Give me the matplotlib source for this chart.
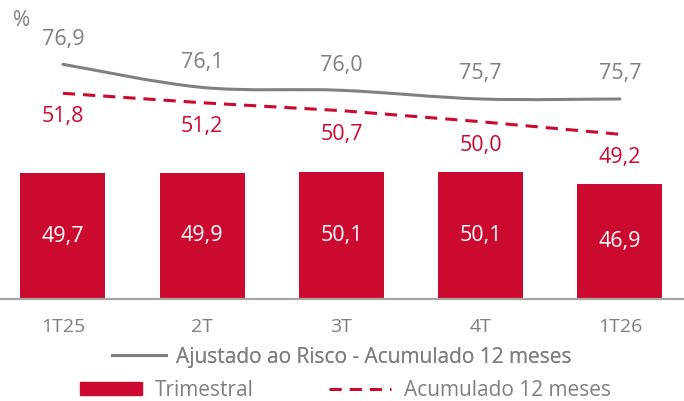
import matplotlib
matplotlib.use("Agg")
import matplotlib.pyplot as plt
from matplotlib.path import Path
from matplotlib.patches import PathPatch, Patch
from matplotlib.lines import Line2D
import numpy as np

categories = ["1T25", "2T", "3T", "4T", "1T26"]
trimestral = [49.7, 49.9, 50.1, 50.1, 46.9]
acumulado = [51.8, 51.2, 50.7, 50.0, 49.2]
ajustado = [76.9, 76.1, 76.0, 75.7, 75.7]

RED = "#CC092F"
GRAY = "#808080"
TXT = "#7F7F7F"
FONT = "Open Sans"

plt.rcParams["font.family"] = [FONT, "DejaVu Sans"]

W, H = 684, 401
fig = plt.figure(figsize=(W / 100, H / 100), dpi=100)
base_px = 299
ax = fig.add_axes([0, 1 - base_px / H, 1, base_px / H])
ax2 = ax.twinx()
ax3 = ax.twinx()

x = np.arange(len(categories))
ax.bar(x, trimestral, width=0.61, color=RED, zorder=2)
ax.set_xlim(-0.452, 4.46)
ax.set_ylim(17, 17 + base_px / 3.84)
for xi, v in zip(x, trimestral):
    ax.text(xi, (17 + v) / 2, f"{v:.1f}".replace(".", ","), ha="center", va="center",
            color="white", fontsize=15.5)

# gray smoothed line
pts = np.column_stack([x, ajustado]).astype(float)
verts = [tuple(pts[0])]
codes = [Path.MOVETO]
n = len(pts)
for i in range(n - 1):
    p0 = pts[i - 1] if i > 0 else pts[i]
    p1 = pts[i]
    p2 = pts[i + 1]
    p3 = pts[i + 2] if i + 2 < n else pts[i + 1]
    c1 = p1 + (p2 - p0) / 6
    c2 = p2 - (p3 - p1) / 6
    verts += [tuple(c1), tuple(c2), tuple(p2)]
    codes += [Path.CURVE4] * 3
ax2.add_patch(PathPatch(Path(verts, codes), fill=False, edgecolor=GRAY, lw=2.2,
                        capstyle="round", zorder=3))
g_ppu = 28.9
g_top = 76.9 + 64.3 / g_ppu
ax2.set_ylim(g_top - base_px / g_ppu, g_top)
for xi, v in zip(x, ajustado):
    ax2.annotate(f"{v:.1f}".replace(".", ","), (xi, v), xytext=(0, 18),
                 textcoords="offset points", ha="center", va="center",
                 color=TXT, fontsize=15.5)

# dashed red line
ax3.plot(x, acumulado, color=RED, lw=2.2, linestyle=(0, (4, 2.6)), zorder=3)
r_ppu = 15.77
r_top = 51.8 + 93.3 / r_ppu
ax3.set_ylim(r_top - base_px / r_ppu, r_top)
for xi, v in zip(x, acumulado):
    ax3.annotate(f"{v:.1f}".replace(".", ","), (xi, v), xytext=(0, -17),
                 textcoords="offset points", ha="center", va="center",
                 color=RED, fontsize=15.5)

for a in (ax, ax2, ax3):
    for s in a.spines.values():
        s.set_visible(False)
    a.set_yticks([])
ax.spines["bottom"].set_visible(True)
ax.spines["bottom"].set_color("#A6A6A6")
ax.spines["bottom"].set_linewidth(1.6)
ax.set_xticks(x)
ax.set_xticklabels(categories, color=TXT, fontsize=14)
ax.tick_params(axis="x", length=0, pad=14)

fig.text(22 / W, 1 - 20 / H, "%", color=TXT, fontsize=15, ha="center", va="center")

leg1 = fig.legend(handles=[Line2D([], [], color=GRAY, lw=2.2)],
                  labels=["Ajustado ao Risco - Acumulado 12 meses"],
                  loc="center", bbox_to_anchor=(0.5, 1 - 357 / H), frameon=False,
                  fontsize=15, handlelength=2.55, handletextpad=0.5, labelcolor=TXT,
                  borderpad=0, borderaxespad=0)
leg2 = fig.legend(handles=[Patch(color=RED), Line2D([], [], color=RED, lw=2.2, linestyle=(0, (4, 2.6)))],
                  labels=["Trimestral", "Acumulado 12 meses"], ncol=2,
                  loc="center", bbox_to_anchor=(0.505, 1 - 390 / H), frameon=False,
                  fontsize=15, handlelength=3.0, handleheight=0.6, handletextpad=0.6,
                  columnspacing=3.6, labelcolor=TXT, borderpad=0, borderaxespad=0)
fig.add_artist(leg1)

fig.savefig("out.png", dpi=100)
